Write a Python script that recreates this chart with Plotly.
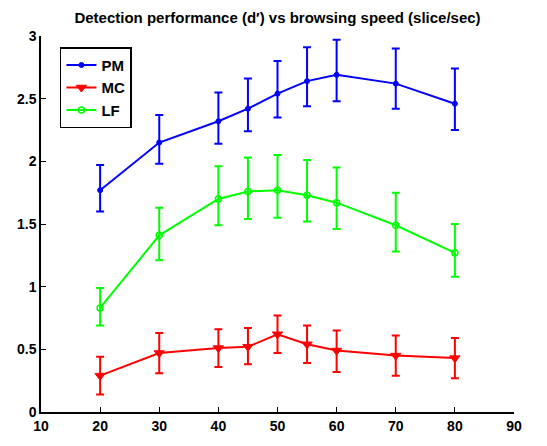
import plotly.graph_objects as go

speed = [20, 30, 40, 45, 50, 55, 60, 70, 80]

pm = [1.77, 2.15, 2.32, 2.42, 2.54, 2.64, 2.69, 2.62, 2.46]
pm_hi = [1.97, 2.37, 2.55, 2.66, 2.80, 2.91, 2.97, 2.90, 2.74]
pm_lo = [1.60, 1.98, 2.14, 2.24, 2.35, 2.44, 2.48, 2.42, 2.25]

mc = [0.29, 0.47, 0.51, 0.52, 0.62, 0.54, 0.49, 0.45, 0.43]
mc_hi = [0.44, 0.63, 0.66, 0.67, 0.77, 0.69, 0.65, 0.61, 0.59]
mc_lo = [0.14, 0.31, 0.36, 0.38, 0.47, 0.39, 0.32, 0.29, 0.27]

lf = [0.83, 1.41, 1.70, 1.76, 1.77, 1.73, 1.67, 1.49, 1.27]
lf_hi = [0.99, 1.63, 1.96, 2.03, 2.05, 2.01, 1.95, 1.75, 1.50]
lf_lo = [0.69, 1.21, 1.49, 1.54, 1.55, 1.52, 1.46, 1.28, 1.08]

xticks = [10, 20, 30, 40, 50, 60, 70, 80, 90]
yticks = [0, 0.5, 1, 1.5, 2, 2.5, 3]
yticklabels = ["0", "0.5", "1", "1.5", "2", "2.5", "3"]

series = [
    ("PM", pm, pm_hi, pm_lo, "#0000ff", "circle", 5, 1),
    ("MC", mc, mc_hi, mc_lo, "#ff0000", "triangle-down", 9, 1),
    ("LF", lf, lf_hi, lf_lo, "#00ff00", "circle-open", 6, 1.5),
]

FAM = "Liberation Sans, Arial, sans-serif"

fig = go.Figure()
for name, v, hi, lo, col, sym, sz, lw in series:
    fig.add_trace(go.Scatter(
        x=speed, y=v, name=name, mode="lines+markers",
        line=dict(color=col, width=2),
        marker=dict(symbol=sym, size=sz, color=col, line=dict(color=col, width=lw)),
        error_y=dict(type="data", symmetric=False,
                     array=[h - a for h, a in zip(hi, v)],
                     arrayminus=[a - l for a, l in zip(v, lo)],
                     color=col, thickness=2, width=4),
    ))

tickfont = dict(family=FAM, size=14, color="black", weight="bold")
fig.update_layout(
    width=547, height=446,
    margin=dict(l=41, r=33, t=36, b=19),
    paper_bgcolor="white", plot_bgcolor="white",
    title=dict(text="Detection performance (d′) vs browsing speed (slice/sec)",
               x=0.5, xref="paper", xanchor="center", y=0.96, yanchor="middle",
               font=dict(family=FAM, size=15, color="black", weight="bold")),
    showlegend=True,
    legend=dict(x=0.04, y=0.97, xanchor="left", yanchor="top",
                bordercolor="black", borderwidth=1.5, bgcolor="white",
                font=dict(family=FAM, size=15, color="black", weight="bold"),
                itemwidth=30, tracegroupgap=0),
    xaxis=dict(range=[10, 90], tickvals=xticks, tickfont=tickfont,
               showline=True, linecolor="black", linewidth=1.5, mirror=False,
               ticks="inside", ticklen=5, tickcolor="black", showgrid=False, zeroline=False),
    yaxis=dict(range=[0, 3], tickvals=yticks, ticktext=yticklabels, tickfont=tickfont,
               showline=True, linecolor="black", linewidth=1.5, mirror=False,
               ticks="inside", ticklen=5, tickcolor="black", showgrid=False, zeroline=False),
)
fig.write_html("out.html")
